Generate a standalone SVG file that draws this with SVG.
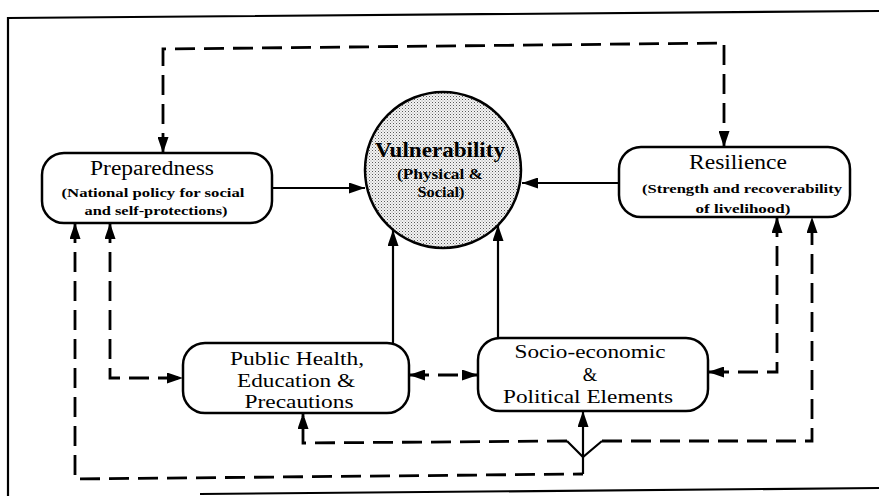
<svg xmlns="http://www.w3.org/2000/svg" width="879" height="496" viewBox="0 0 879 496">
  <style>
    text { font-family: "Liberation Serif", Tinos, "Nimbus Roman", "Times New Roman", Times, serif; fill: #000; text-anchor: middle; }
    .title { font-size: 20px; }
    .sub { font-size: 13.5px; font-weight: bold; }
    .big { font-size: 18.5px; }
    .box { fill: #fff; stroke: #000; stroke-width: 2.5; }
    .solid { fill: none; stroke: #000; stroke-width: 2.2; }
    .dash { fill: none; stroke: #000; stroke-width: 2.8; stroke-dasharray: 20 9; }
    .frame { fill: none; stroke: #000; stroke-width: 2.2; }
  </style>
  <defs>
    <marker id="ah" viewBox="0 0 16 11" refX="16" refY="5.5" markerWidth="16" markerHeight="11" markerUnits="userSpaceOnUse" orient="auto-start-reverse">
      <path d="M0,0 L16,5.5 L0,11 Z" fill="#000"/>
    </marker>
    <pattern id="dots" width="3" height="3" patternUnits="userSpaceOnUse">
      <rect width="3" height="3" fill="#f4f4f4"/>
      <rect x="0" y="0" width="1" height="1" fill="#5a5a5a"/>
      <rect x="1.5" y="1.5" width="1" height="1" fill="#999"/>
    </pattern>
  </defs>

  <rect width="879" height="496" fill="#fff"/>
  <g id="frame">
    <path class="frame" d="M8,496 L8,18 L879,11"/>
    <path class="frame" d="M200,494 L879,488"/>
  </g>

  <g id="connectors">
    <path class="dash" d="M163,153 L163,49 L724,43 L724,147" marker-start="url(#ah)" marker-end="url(#ah)"/>
    <path class="solid" d="M272,188 L365,188" marker-end="url(#ah)"/>
    <path class="solid" d="M619,183 L522,183" marker-end="url(#ah)"/>
    <path class="solid" d="M393,343 L393,230" marker-end="url(#ah)"/>
    <path class="solid" d="M498,338 L498,225" marker-end="url(#ah)"/>
    <path class="dash" d="M409,375 L478,375" marker-start="url(#ah)" marker-end="url(#ah)"/>
    <path class="dash" d="M110,223 L110,378 L183,378" marker-start="url(#ah)" marker-end="url(#ah)"/>
    <path class="dash" d="M777,217 L777,372 L708,372" marker-start="url(#ah)" marker-end="url(#ah)"/>
    <path class="dash" d="M75,223 L75,479 L583,474" marker-start="url(#ah)"/>
    <path class="solid" d="M583,474 L583,411" marker-end="url(#ah)"/>
    <path class="solid" d="M567,441 L583,457 L602,441"/>
    <path class="dash" d="M567,441 L303,443 L303,413" marker-end="url(#ah)"/>
    <path class="dash" d="M602,441 L812,441 L812,217" marker-end="url(#ah)"/>
  </g>

  <g id="vulnerability">
    <circle cx="443" cy="170" r="78" fill="url(#dots)" stroke="#000" stroke-width="2.5"/>
    <text x="440" y="157" font-size="22" font-weight="bold" textLength="130" lengthAdjust="spacingAndGlyphs">Vulnerability</text>
    <text x="440" y="179" font-size="14" font-weight="bold" textLength="86" lengthAdjust="spacingAndGlyphs">(Physical &amp;</text>
    <text x="441" y="197" font-size="14" font-weight="bold" textLength="47" lengthAdjust="spacingAndGlyphs">Social)</text>
  </g>

  <g id="preparedness">
    <rect class="box" x="42" y="153" width="230" height="70" rx="22"/>
    <text class="title" x="152" y="175" textLength="124" lengthAdjust="spacingAndGlyphs">Preparedness</text>
    <text class="sub" x="153" y="197" textLength="183" lengthAdjust="spacingAndGlyphs">(National policy for social</text>
    <text class="sub" x="156" y="215" textLength="143" lengthAdjust="spacingAndGlyphs">and self-protections)</text>
  </g>

  <g id="resilience">
    <rect class="box" x="619" y="147" width="231" height="70" rx="22"/>
    <text class="title" x="738" y="169" font-size="21" textLength="98" lengthAdjust="spacingAndGlyphs">Resilience</text>
    <text class="sub" x="742" y="193" textLength="200" lengthAdjust="spacingAndGlyphs">(Strength and recoverability</text>
    <text class="sub" x="743" y="213" textLength="95" lengthAdjust="spacingAndGlyphs">of livelihood)</text>
  </g>

  <g id="public-health">
    <rect class="box" x="183" y="343" width="226" height="70" rx="22"/>
    <text class="big" x="297" y="365" textLength="134" lengthAdjust="spacingAndGlyphs">Public Health,</text>
    <text class="big" x="296" y="387" textLength="118" lengthAdjust="spacingAndGlyphs">Education &amp;</text>
    <text class="big" x="299" y="408" textLength="109" lengthAdjust="spacingAndGlyphs">Precautions</text>
  </g>

  <g id="socio-economic">
    <rect class="box" x="478" y="338" width="230" height="73" rx="22"/>
    <text class="big" x="590" y="358" textLength="151" lengthAdjust="spacingAndGlyphs">Socio-economic</text>
    <text class="big" x="590" y="381">&amp;</text>
    <text class="big" x="588" y="403" textLength="170" lengthAdjust="spacingAndGlyphs">Political Elements</text>
  </g>
</svg>
